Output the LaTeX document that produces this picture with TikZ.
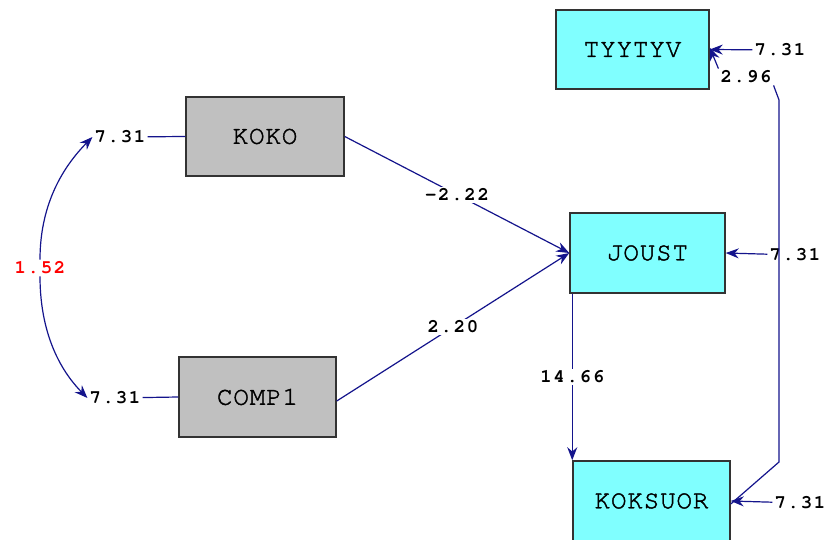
\documentclass[tikz,border=0pt]{standalone}
\usepackage{fontspec}
\usetikzlibrary{arrows.meta, positioning}
\newfontfamily\boxfont[Extension=.otf, LetterSpace=3, FakeBold=1.5]{texgyrecursor-regular}
\newfontfamily\numfont[Extension=.otf, LetterSpace=9]{texgyrecursor-bold}

\begin{document}
\begin{tikzpicture}[x=1pt, y=-1pt,
    %Style
    varbox/.style={draw=black!80, line width=1.5pt, minimum width=155pt,
      minimum height=79pt, font=\boxfont\fontsize{26}{26}\selectfont},
    endogenous/.style={varbox, fill=endocolor},
    exogenous/.style={varbox, fill=exocolor},
    estimate/.style={font=\numfont\fontsize{19}{19}\selectfont, inner sep=2pt},
    path line/.style={draw=linecolor, line width=1.2pt},
    arrowed/.style={path line, -{Stealth[length=13pt,width=10pt]}}]
    %Colors
    \definecolor{endocolor}{RGB}{128,255,255}
    \definecolor{exocolor}{RGB}{192,192,192}
    \definecolor{linecolor}{RGB}{20,20,140}
    \useasboundingbox[fill=white] (0,0) rectangle (829,540);

    %The variables
    \node[endogenous, minimum width=153pt] (tyytyv) at (632.5,49.5) {TYYTYV};
    \node[exogenous, minimum width=158pt] (koko) at (265,136.5) {KOKO};
    \node[endogenous, minimum height=80pt] (joust) at (647.5,253) {JOUST};
    \node[exogenous, minimum width=157pt, minimum height=80pt] (comp) at (257.5,397) {COMP1};
    \node[endogenous, minimum width=157pt, minimum height=80pt] (koksuor) at (651.5,501) {KOKSUOR};

    %Error variances
    \node[estimate] (e koko) at (120,137) {7.31};
    \node[estimate] (e comp) at (115,398) {7.31};
    \node[estimate] (e tyytyv) at (780,50) {7.31};
    \node[estimate] (e joust) at (795,255) {7.31};
    \node[estimate] (e koksuor) at (800,503) {7.31};
    \node[estimate, red] (cov) at (40,268) {1.52};
    \node[estimate] (cov err) at (746,77) {2.96};

    \draw[path line] (e koko) -- (koko.west);
    \draw[path line] (e comp) -- (comp.west);
    \draw[arrowed] (cov) .. controls (40,215) and (55,175) .. (e koko.west);
    \draw[arrowed] (cov) .. controls (40,325) and (55,365) .. (e comp.west);

    %Paths
    \draw[arrowed] (koko.east) -- node[estimate, fill=white] {-2.22} (joust.west);
    \draw[arrowed] ([yshift=-4pt]comp.east) -- node[estimate, fill=white] {2.20} (joust.west);
    \draw[arrowed] ([xshift=3pt]joust.south west) -- node[estimate, fill=white] {14.66}
      ([xshift=3pt]joust.south west |- koksuor.north);

    \draw[path line] ([yshift=-3pt]koksuor.east) -- (779,462) -- (779,100) -- (cov err.south east);
    \draw[arrowed] (cov err.north west) -- ([yshift=2pt]tyytyv.east);

    \draw[arrowed] (e tyytyv) -- (tyytyv.east);
    \draw[arrowed] (e joust) -- (joust.east);
    \draw[arrowed] (e koksuor) -- (koksuor.east);
\end{tikzpicture}
\end{document}
